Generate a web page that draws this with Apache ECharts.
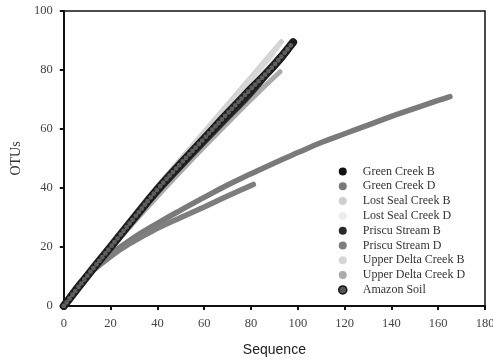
<!DOCTYPE html>
<html lang="en">
<head>
    <meta charset="UTF-8">
    <title>OTUs vs Sequence</title>
    <script src="https://cdn.jsdelivr.net/npm/echarts@6/dist/echarts.min.js"></script>
    <style>
        body { margin: 0; background: #fff; }
    </style>
</head>
<body>
    <div id="main" style="width: 493px; height: 360px;"></div>
    <script>
        // legend order
        const names = ['Green Creek B', 'Green Creek D', 'Lost Seal Creek B', 'Lost Seal Creek D',
            'Priscu Stream B', 'Priscu Stream D', 'Upper Delta Creek B', 'Upper Delta Creek D', 'Amazon Soil'];

        // values (x = sequences, y = OTUs)
        const lostSealDX = [0, 10, 20, 30, 40, 50, 60, 70, 80, 90];
        const lostSealDY = [0, 10.2, 20.4, 30.2, 39.8, 49, 58, 66.8, 75.6, 85];
        const lostSealBX = [0, 10, 20, 30, 40, 50, 60, 70, 80, 93];
        const lostSealBY = [0, 10.4, 20.8, 30.8, 40.5, 49.8, 59, 68.3, 77.5, 89.6];
        const upperDeltaBX = [0, 10, 20, 30, 40, 50, 60, 70, 80, 92];
        const upperDeltaBY = [0, 10.3, 20.6, 30.5, 40.2, 49.4, 58.5, 67.6, 76.8, 88.4];
        const upperDeltaDX = [0, 10, 20, 30, 40, 50, 60, 70, 80, 92.4];
        const upperDeltaDY = [0, 9.8, 19.2, 28.4, 37.2, 45.7, 54, 62, 70, 79.4];
        const greenBX = [0, 10, 20, 30, 40, 50, 60, 70, 80, 90, 96];
        const greenBY = [0, 10, 19.8, 29.4, 39, 47.8, 56.3, 64.6, 72.8, 80.8, 86.6];
        const priscuBX = [0, 10, 20, 30, 40, 50, 60, 70, 80, 88];
        const priscuBY = [0, 9.9, 19.5, 29, 38.4, 47, 55.4, 63.6, 71.8, 79.6];
        const greenDX = [0, 5, 10, 20, 30, 40, 50, 60, 70, 80, 90, 100, 110, 120, 130, 140, 150, 160, 165];
        const greenDY = [0, 6, 10.5, 17.5, 23.2, 28, 32.5, 36.8, 41, 44.8, 48.5, 52, 55.4, 58.4, 61.3, 64.3, 67, 69.7, 71];
        const priscuDX = [0, 5, 10, 20, 30, 40, 50, 60, 70, 81];
        const priscuDY = [0, 6, 10.3, 16.8, 22, 26.3, 30, 33.6, 37.3, 41.2];
        const amazonX = [0, 10, 20, 30, 40, 50, 60, 70, 80, 90, 98];
        const amazonY = [0, 10.2, 20, 29.8, 39.5, 48.3, 56.8, 65.3, 73.6, 81.8, 89.4];

        const colors = {
            'Green Creek B': '#111111',
            'Green Creek D': '#7a7a7a',
            'Lost Seal Creek B': '#cfcfcf',
            'Lost Seal Creek D': '#ececec',
            'Priscu Stream B': '#2a2a2a',
            'Priscu Stream D': '#7e7e7e',
            'Upper Delta Creek B': '#d6d6d6',
            'Upper Delta Creek D': '#ababab',
            'Amazon Soil': '#555555'
        };

        function pairs(xs, ys) {
            return xs.map((x, i) => [x, ys[i]]);
        }

        function lineSeries(name, xs, ys, width) {
            return {
                name: name,
                type: 'line',
                data: pairs(xs, ys),
                showSymbol: false,
                smooth: true,
                itemStyle: { color: colors[name] },
                lineStyle: { color: colors[name], width: width, cap: 'round' }
            };
        }

        const serif = 'Liberation Serif, DejaVu Serif, serif';

        var myChart = echarts.init(document.getElementById('main'));
        let option = {
            animation: false,
            grid: {
                left: 63.8, right: 8, top: 11, bottom: 54,
                outerBoundsMode: 'none',
                show: true, borderColor: '#111', borderWidth: 1.5
            },
            legend: {
                orient: 'vertical',
                left: 333,
                top: 160.5,
                icon: 'circle',
                itemWidth: 30,
                itemHeight: 8,
                itemGap: 2.8,
                textStyle: { fontFamily: serif, fontSize: 12, lineHeight: 12, color: '#333' },
                data: names.map(n => n === 'Amazon Soil'
                    ? { name: n, itemStyle: { color: '#555', borderColor: '#111', borderWidth: 1.5 } }
                    : { name: n, itemStyle: { color: colors[n] } })
            },
            xAxis: {
                type: 'value',
                min: 0, max: 180, interval: 20,
                name: 'Sequence',
                nameLocation: 'middle',
                nameGap: 37,
                nameTextStyle: { fontFamily: 'Liberation Sans, Arial, sans-serif', fontSize: 14, color: '#222' },
                axisLine: { show: true, lineStyle: { color: '#111', width: 2 } },
                axisTick: { show: true, length: 4, lineStyle: { color: '#111', width: 2 } },
                axisLabel: { fontFamily: serif, fontSize: 12.5, color: '#444', margin: 11 },
                splitLine: { show: false }
            },
            yAxis: {
                type: 'value',
                min: 0, max: 100, interval: 20,
                name: 'OTUs',
                nameLocation: 'middle',
                nameGap: 36,
                nameTextStyle: { fontFamily: serif, fontSize: 14, color: '#333' },
                axisLine: { show: true, lineStyle: { color: '#111', width: 2 } },
                axisTick: { show: true, length: 4, lineStyle: { color: '#111', width: 2 } },
                axisLabel: { fontFamily: serif, fontSize: 12.5, color: '#444', margin: 11 },
                splitLine: { show: false }
            },
            series: [
                lineSeries('Lost Seal Creek D', lostSealDX, lostSealDY, 5),
                lineSeries('Lost Seal Creek B', lostSealBX, lostSealBY, 5),
                lineSeries('Upper Delta Creek B', upperDeltaBX, upperDeltaBY, 5),
                lineSeries('Upper Delta Creek D', upperDeltaDX, upperDeltaDY, 5),
                lineSeries('Green Creek B', greenBX, greenBY, 5),
                lineSeries('Priscu Stream B', priscuBX, priscuBY, 5),
                lineSeries('Green Creek D', greenDX, greenDY, 5.5),
                lineSeries('Priscu Stream D', priscuDX, priscuDY, 5.5),
                // Amazon soil: dark chain of circles, base stroke + dotted overlay
                {
                    name: 'Amazon Soil',
                    type: 'line',
                    data: pairs(amazonX, amazonY),
                    showSymbol: false,
                    smooth: true,
                    itemStyle: { color: '#555' },
                    lineStyle: { color: '#1c1c1c', width: 8, cap: 'round' }
                },
                {
                    name: 'Amazon Soil',
                    type: 'line',
                    data: pairs(amazonX, amazonY),
                    showSymbol: false,
                    smooth: true,
                    itemStyle: { color: '#555' },
                    lineStyle: { color: '#5e5e5e', width: 4.8, cap: 'round', type: [0, 4.8] }
                }
            ]
        };
        myChart.setOption(option);
    </script>
</body>
</html>
